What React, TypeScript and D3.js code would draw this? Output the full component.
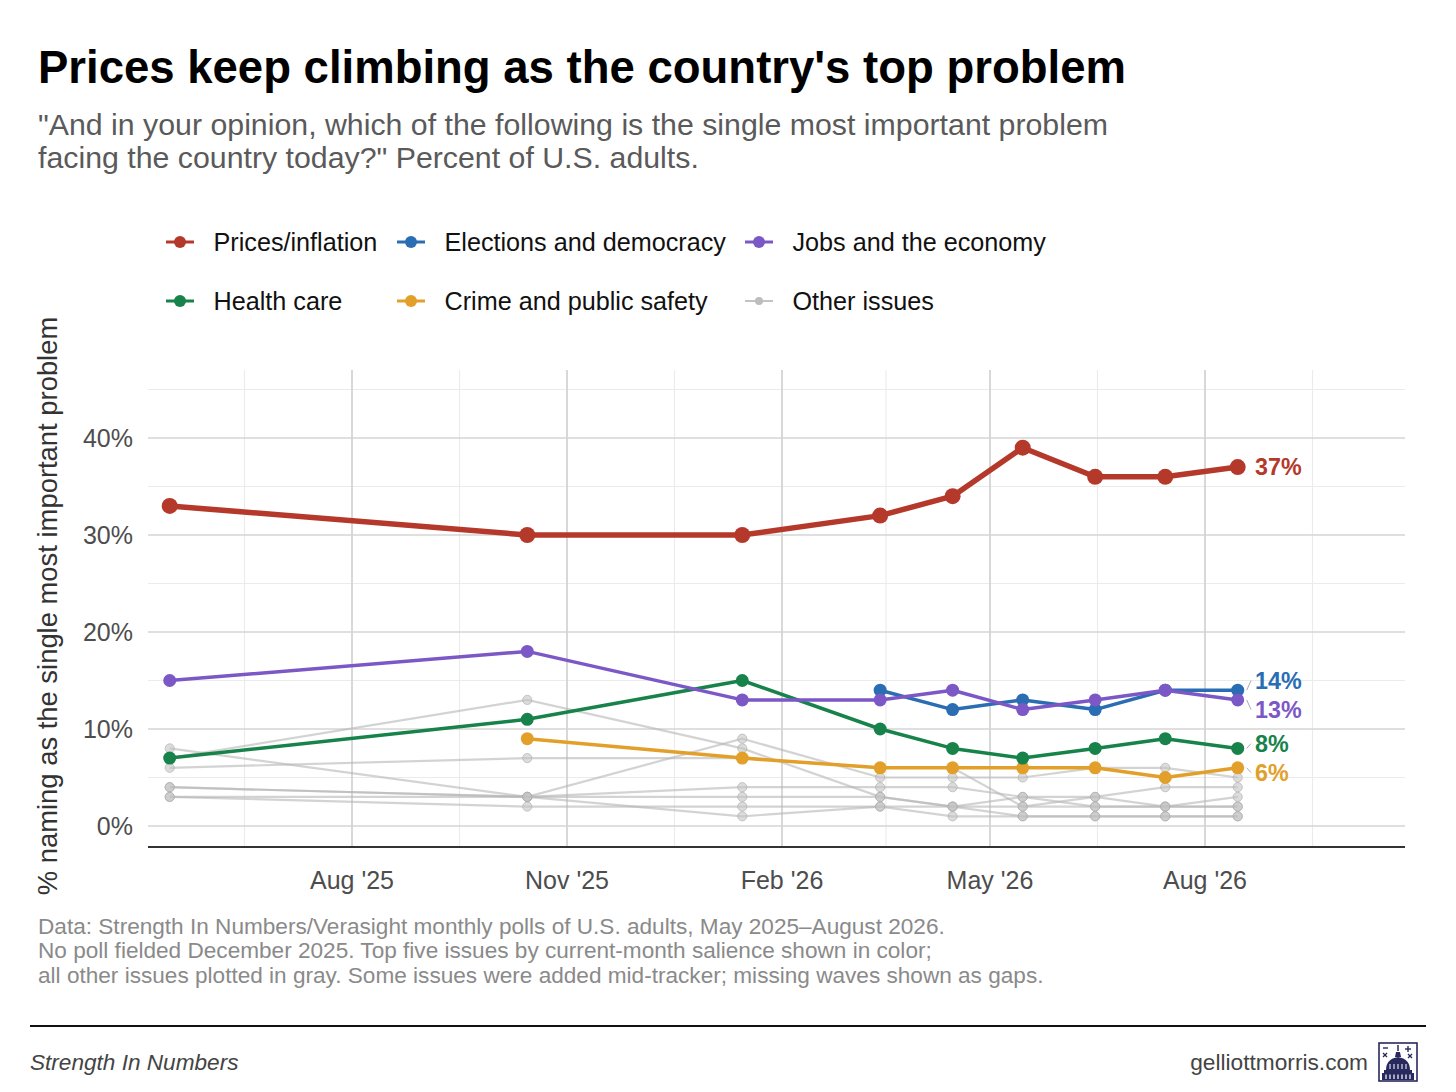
import React from "react";
import * as d3 from "d3";

// ---------- DATA ----------
const waveDates = [
  "2025-05-15", "2025-10-15", "2026-01-15", "2026-03-15", "2026-04-15",
  "2026-05-15", "2026-06-15", "2026-07-15", "2026-08-15",
];
const pricesInflation = [33, 30, 30, 32, 34, 39, 36, 36, 37];
const electionsDemocracy = [null, null, null, 14, 12, 13, 12, 14, 14];
const jobsEconomy = [15, 18, 13, 13, 14, 12, 13, 14, 13];
const healthCare = [7, 11, 15, 10, 8, 7, 8, 9, 8];
const crimeSafety = [null, 9, 7, 6, 6, 6, 6, 5, 6];

const otherA = [8, 3, 9, 5, 5, 5, 6, 6, 5];
const otherB = [7, 13, 8, 3, 2, 2, 2, 2, 2];
const otherC = [6, 7, 7, 6, 6, 2, 3, 4, 4];
const otherD = [4, 3, 4, 4, 4, 3, 3, 2, 3];
const otherE = [4, 3, 3, 3, 2, 3, 2, 2, 2];
const otherF = [3, 2, 2, 2, 2, 1, 1, 1, 1];
const otherG = [3, 3, 1, 2, 1, 1, 1, 1, 1];

const yTicks = [0, 10, 20, 30, 40];
const yMinor = [5, 15, 25, 35, 45];
const xTickDates = ["2025-08-01", "2025-11-01", "2026-02-01", "2026-05-01", "2026-08-01"];
const xTickLabels = ["Aug '25", "Nov '25", "Feb '26", "May '26", "Aug '26"];

const title = "Prices keep climbing as the country's top problem";
const subtitleLines = [
  "\"And in your opinion, which of the following is the single most important problem",
  "facing the country today?\" Percent of U.S. adults.",
];
const footnoteLines = [
  "Data: Strength In Numbers/Verasight monthly polls of U.S. adults, May 2025\u2013August 2026.",
  "No poll fielded December 2025. Top five issues by current-month salience shown in color;",
  "all other issues plotted in gray. Some issues were added mid-tracker; missing waves shown as gaps.",
];

// ---------- STYLE ----------
const COLORS = {
  prices: "#B5392A",
  elections: "#2A6DB3",
  jobs: "#7B58C6",
  health: "#17834A",
  crime: "#E2A02A",
  other: "#bdbdbd",
};

const W = 1456;
const H = 1092;
const panel = { left: 148, right: 1405, top: 370, bottom: 847 };
const FONT = "'Liberation Sans', Arial, Helvetica, sans-serif";

type Series = { key: string; name: string; values: (number | null)[]; color: string; width: number; r: number };

const colored: Series[] = [
  { key: "crime", name: "Crime and public safety", values: crimeSafety, color: COLORS.crime, width: 3.5, r: 6.5 },
  { key: "health", name: "Health care", values: healthCare, color: COLORS.health, width: 3.5, r: 6.5 },
  { key: "elections", name: "Elections and democracy", values: electionsDemocracy, color: COLORS.elections, width: 3.5, r: 6.5 },
  { key: "jobs", name: "Jobs and the economy", values: jobsEconomy, color: COLORS.jobs, width: 3.5, r: 6.5 },
  { key: "prices", name: "Prices/inflation", values: pricesInflation, color: COLORS.prices, width: 5.5, r: 8 },
];
const grays = [otherA, otherB, otherC, otherD, otherE, otherF, otherG];

const legendRows = [
  [
    { name: "Prices/inflation", color: COLORS.prices },
    { name: "Elections and democracy", color: COLORS.elections },
    { name: "Jobs and the economy", color: COLORS.jobs },
  ],
  [
    { name: "Health care", color: COLORS.health },
    { name: "Crime and public safety", color: COLORS.crime },
    { name: "Other issues", color: COLORS.other },
  ],
];
const legendColX = [166, 397, 745];
const legendRowY = [242, 301];

const parse = d3.utcParse("%Y-%m-%d");
const dates = waveDates.map((d) => parse(d) as Date);

const x = d3
  .scaleUtc()
  .domain([parse("2025-08-01") as Date, parse("2026-08-01") as Date])
  .range([352, 1205]);
const y = d3.scaleLinear().domain([0, 40]).range([826, 438]);

function pts(values: (number | null)[]) {
  return values.map((v, i) => ({ d: dates[i], v }));
}
const lineGen = d3
  .line<{ d: Date; v: number | null }>()
  .defined((p) => p.v !== null)
  .x((p) => x(p.d))
  .y((p) => y(p.v as number));

// end labels with simple repel
function endLabels() {
  const last = dates.length - 1;
  const items = colored
    .map((s) => ({ s, v: s.values[last] as number, y0: y(s.values[last] as number), y: y(s.values[last] as number) }))
    .sort((a, b) => a.y0 - b.y0);
  const gap = 29;
  for (let iter = 0; iter < 50; iter++) {
    for (let i = 1; i < items.length; i++) {
      const d = items[i].y - items[i - 1].y;
      if (d < gap) {
        const push = (gap - d) / 2;
        items[i].y += push;
        items[i - 1].y -= push;
      }
    }
  }
  return items;
}

function Logo({ x0, y0 }: { x0: number; y0: number }) {
  const c = "#27295f";
  return (
    <g transform={`translate(${x0},${y0})`} fill="none" stroke={c}>
      <rect x={1} y={1} width={38} height={38} strokeWidth={1.6} />
      <line x1={5} y1={6} x2={10} y2={6} strokeWidth={1.4} />
      <line x1={30} y1={4} x2={30} y2={10} strokeWidth={1.4} />
      <line x1={27} y1={7} x2={33} y2={7} strokeWidth={1.4} />
      <line x1={5} y1={11} x2={9} y2={15} strokeWidth={1.3} />
      <line x1={9} y1={11} x2={5} y2={15} strokeWidth={1.3} />
      <line x1={30} y1={12} x2={34} y2={16} strokeWidth={1.3} />
      <line x1={34} y1={12} x2={30} y2={16} strokeWidth={1.3} />
      <path d="M20 3 L20 9" strokeWidth={1.5} />
      <path d="M17 15 L18 10 L22 10 L23 15 Z" fill={c} stroke="none" />
      <path d="M8 28 Q8 17 20 15 Q32 17 32 28 Z" fill={c} stroke="none" />
      <rect x={6} y={28} width={28} height={3} fill={c} stroke="none" />
      <rect x={4} y={31} width={32} height={7} fill={c} stroke="none" />
      {[8, 12, 16, 20, 24, 28, 32].map((cx) => (
        <line key={cx} x1={cx} y1={32.5} x2={cx} y2={37} stroke="#fff" strokeWidth={1.2} />
      ))}
      {[12, 16, 20, 24, 28].map((cx) => (
        <line key={"u" + cx} x1={cx} y1={22} x2={cx} y2={27} stroke="#fff" strokeWidth={1} />
      ))}
    </g>
  );
}

export default function App() {
  const majorX = xTickDates.map((d) => parse(d) as Date);
  const extMajor = [d3.utcMonth.offset(majorX[0], -3), ...majorX, d3.utcMonth.offset(majorX[majorX.length - 1], 3)];
  const minorX: number[] = [];
  for (let i = 0; i < extMajor.length - 1; i++) {
    const m = (x(extMajor[i]) + x(extMajor[i + 1])) / 2;
    if (m > panel.left && m < panel.right) minorX.push(m);
  }
  const labels = endLabels();
  const lastX = x(dates[dates.length - 1]);

  return (
    <svg
      width={W}
      height={H}
      viewBox={`0 0 ${W} ${H}`}
      style={{ position: "absolute", left: 0, top: 0, background: "#fff", fontFamily: FONT }}
    >
      <rect width={W} height={H} fill="#fff" />
      {/* Title & subtitle */}
      <text x={38} y={83} fontSize={45.5} fontWeight={700} fill="#000">
        {title}
      </text>
      {subtitleLines.map((t, i) => (
        <text key={i} x={38} y={135 + i * 33} fontSize={30.3} fill="#5a5a5a">
          {t}
        </text>
      ))}

      {/* Legend */}
      {legendRows.map((row, ri) =>
        row.map((it, ci) => {
          const lx = legendColX[ci];
          const ly = legendRowY[ri];
          const isOther = it.name === "Other issues";
          return (
            <g key={it.name}>
              <line x1={lx} y1={ly} x2={lx + 28} y2={ly} stroke={it.color} strokeWidth={isOther ? 1.8 : 3} />
              <circle cx={lx + 14} cy={ly} r={isOther ? 4 : 6} fill={it.color} />
              <text x={lx + 47.5} y={ly + 8.8} fontSize={25.2} fill="#111">
                {it.name}
              </text>
            </g>
          );
        })
      )}

      {/* Grid */}
      <g>
        {yMinor.map((v) => (
          <line key={"ym" + v} x1={panel.left} x2={panel.right} y1={y(v)} y2={y(v)} stroke="#ebebeb" strokeWidth={1.1} />
        ))}
        {minorX.map((mx, i) => (
          <line key={"xm" + i} x1={mx} x2={mx} y1={panel.top} y2={panel.bottom} stroke="#ebebeb" strokeWidth={1.1} />
        ))}
        {yTicks.map((v) => (
          <line key={"yM" + v} x1={panel.left} x2={panel.right} y1={y(v)} y2={y(v)} stroke="#d4d4d4" strokeWidth={1.6} />
        ))}
        {majorX.map((d, i) => (
          <line key={"xM" + i} x1={x(d)} x2={x(d)} y1={panel.top} y2={panel.bottom} stroke="#d4d4d4" strokeWidth={1.8} />
        ))}
      </g>

      {/* Axis */}
      <line x1={panel.left} x2={panel.right} y1={panel.bottom} y2={panel.bottom} stroke="#333" strokeWidth={2} />
      {yTicks.map((v) => (
        <text key={"yl" + v} x={133} y={y(v) + 8.8} fontSize={25} fill="#4d4d4d" textAnchor="end">
          {v + "%"}
        </text>
      ))}
      {majorX.map((d, i) => (
        <text key={"xl" + i} x={x(d)} y={888.5} fontSize={25} fill="#4d4d4d" textAnchor="middle">
          {xTickLabels[i]}
        </text>
      ))}
      <text
        transform={`translate(57, ${606}) rotate(-90)`}
        fontSize={27.4}
        fill="#333"
        textAnchor="middle"
      >
        % naming as the single most important problem
      </text>

      {/* Gray series */}
      <g>
        {grays.map((vals, gi) => (
          <g key={"g" + gi}>
            <path d={lineGen(pts(vals)) || ""} fill="none" stroke="#b5b5b5" strokeOpacity={0.6} strokeWidth={2.2} />
            {pts(vals)
              .filter((p) => p.v !== null)
              .map((p, i) => (
                <circle
                  key={i}
                  cx={x(p.d)}
                  cy={y(p.v as number)}
                  r={4.6}
                  fill="#c4c4c4"
                  fillOpacity={0.6}
                  stroke="#aaaaaa"
                  strokeOpacity={0.6}
                  strokeWidth={1}
                />
              ))}
          </g>
        ))}
      </g>

      {/* Colored series */}
      {colored.map((s) => (
        <g key={s.key}>
          <path d={lineGen(pts(s.values)) || ""} fill="none" stroke={s.color} strokeWidth={s.width} strokeLinejoin="round" />
          {pts(s.values)
            .filter((p) => p.v !== null)
            .map((p, i) => (
              <circle key={i} cx={x(p.d)} cy={y(p.v as number)} r={s.r} fill={s.color} />
            ))}
        </g>
      ))}

      {/* End labels */}
      {labels.map((l) => (
        <g key={"lab" + l.s.key}>
          {Math.abs(l.y - l.y0) > 2 && (
            <line x1={lastX + 9} y1={l.y0} x2={1251} y2={l.y} stroke="#aaa" strokeWidth={1} />
          )}
          <text x={1255} y={l.y + 8.3} fontSize={23.3} fontWeight={700} fill={l.s.color}>
            {l.v + "%"}
          </text>
        </g>
      ))}

      {/* Footnote */}
      {footnoteLines.map((t, i) => (
        <text key={"fn" + i} x={38} y={933.5 + i * 24.5} fontSize={22.6} fill="#8a8a8a">
          {t}
        </text>
      ))}

      {/* Bottom rule & credits */}
      <line x1={30} x2={1426} y1={1026} y2={1026} stroke="#111" strokeWidth={2} />
      <text x={30} y={1069.5} fontSize={22.6} fontStyle="italic" fill="#444">
        Strength In Numbers
      </text>
      <text x={1368} y={1069.5} fontSize={22.7} fill="#444" textAnchor="end">
        gelliottmorris.com
      </text>
      <Logo x0={1378} y0={1042} />
    </svg>
  );
}
